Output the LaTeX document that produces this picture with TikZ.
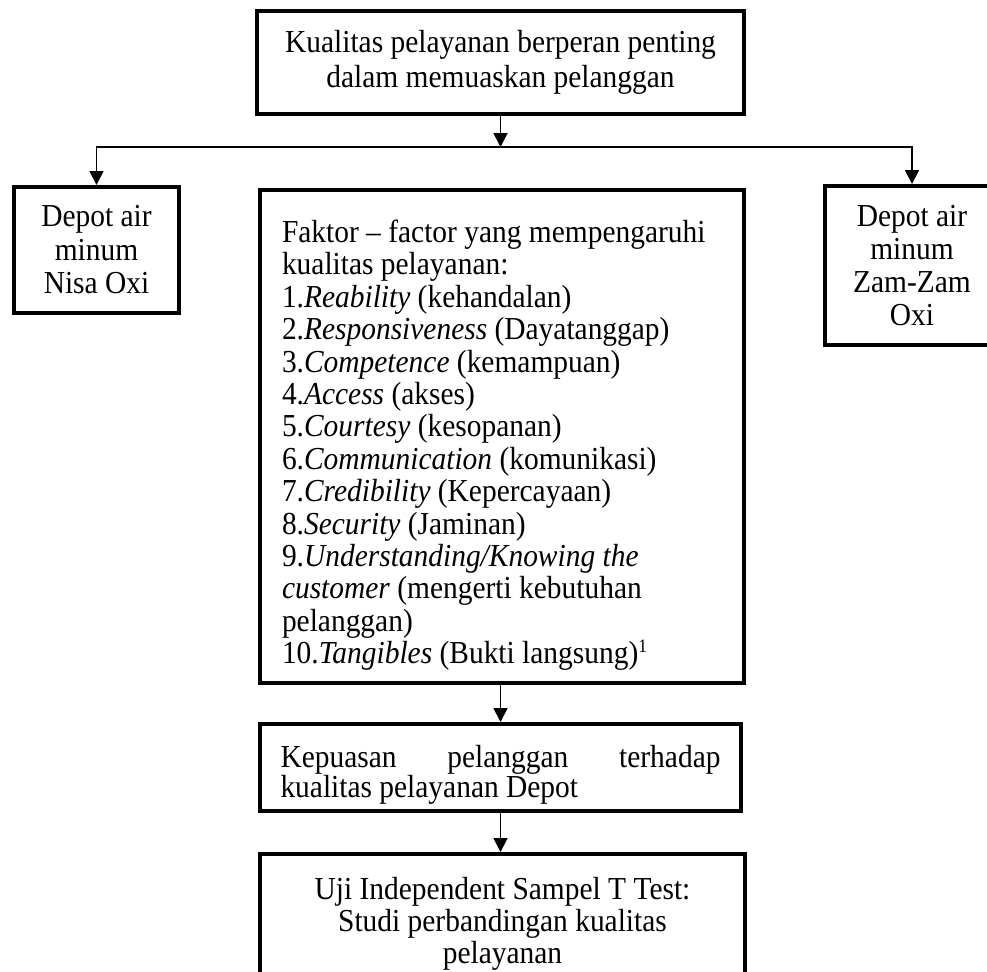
\documentclass[tikz,border=0pt]{standalone}
\usepackage{fontspec}
\setmainfont{Liberation Serif}[FakeStretch=0.92]
\usetikzlibrary{arrows.meta}

\begin{document}
\begin{tikzpicture}[x=1pt, y=-1pt,
        box/.style={rectangle, draw=black, line width=4pt, inner sep=0pt, font=\fontsize{32}{33}\selectfont},
        link/.style={draw=black, line width=1.8pt, -{Triangle[length=14pt, width=14pt]}},]

        \useasboundingbox (0,0) rectangle (987,971);

        % Boxes
        \node[box, minimum width=487, minimum height=103, align=center, font=\fontsize{32}{35}\selectfont] (peran) at (500.5,62.5) {Kualitas pelayanan berperan penting\\dalam memuaskan pelanggan};
        \node[box, minimum width=165, minimum height=126, align=center, font=\fontsize{32}{33.5}\selectfont] (nisa) at (96.5,250) {Depot air\\minum\\Nisa Oxi};
        \node[box, minimum width=174, minimum height=159, align=center, font=\fontsize{32}{33}\selectfont] (zamzam) at (912,265.5) {Depot air\\minum\\Zam-Zam\\Oxi};
        \node[box, minimum width=484, minimum height=493, text width=440, align=flush left, font=\fontsize{32}{32.4}\selectfont] (faktor) at (502,436.5) {\rule{0pt}{40pt}Faktor -- factor yang mempengaruhi\\kualitas pelayanan:\\1.\textit{Reability} (kehandalan)\\2.\textit{Responsiveness} (Dayatanggap)\\3.\textit{Competence} (kemampuan)\\4.\textit{Access} (akses)\\5.\textit{Courtesy} (kesopanan)\\6.\textit{Communication} (komunikasi)\\7.\textit{Credibility} (Kepercayaan)\\8.\textit{Security} (Jaminan)\\9.\textit{Understanding/Knowing the}\\\textit{customer} (mengerti kebutuhan\\pelanggan)\\10.\textit{Tangibles} (Bukti langsung)\raisebox{0.36em}{\fontsize{19}{19}\selectfont 1}};
        \node[box, minimum width=481, minimum height=87, text width=440, align=justify, font=\fontsize{32}{30}\selectfont] (puas) at (500.5,767.5) {\rule{0pt}{37pt}Kepuasan pelanggan terhadap \linebreak kualitas pelayanan Depot};
        \node[box, minimum width=485, minimum height=140, align=center, font=\fontsize{32}{32}\selectfont] (uji) at (502.5,924) {Uji Independent Sampel T Test:\\Studi perbandingan kualitas\\pelayanan};

        % Links
        \coordinate (split) at (peran.south |- 0,147);
        \draw[link] (peran.south) -- (split);
        \draw[link] (split) -| (nisa.north);
        \draw[link] (split) -| (zamzam.north);
        \draw[link] (puas.north |- faktor.south) -- (puas.north);
        \draw[link] (puas.south) -- (puas.south |- uji.north);
\end{tikzpicture}
\end{document}
